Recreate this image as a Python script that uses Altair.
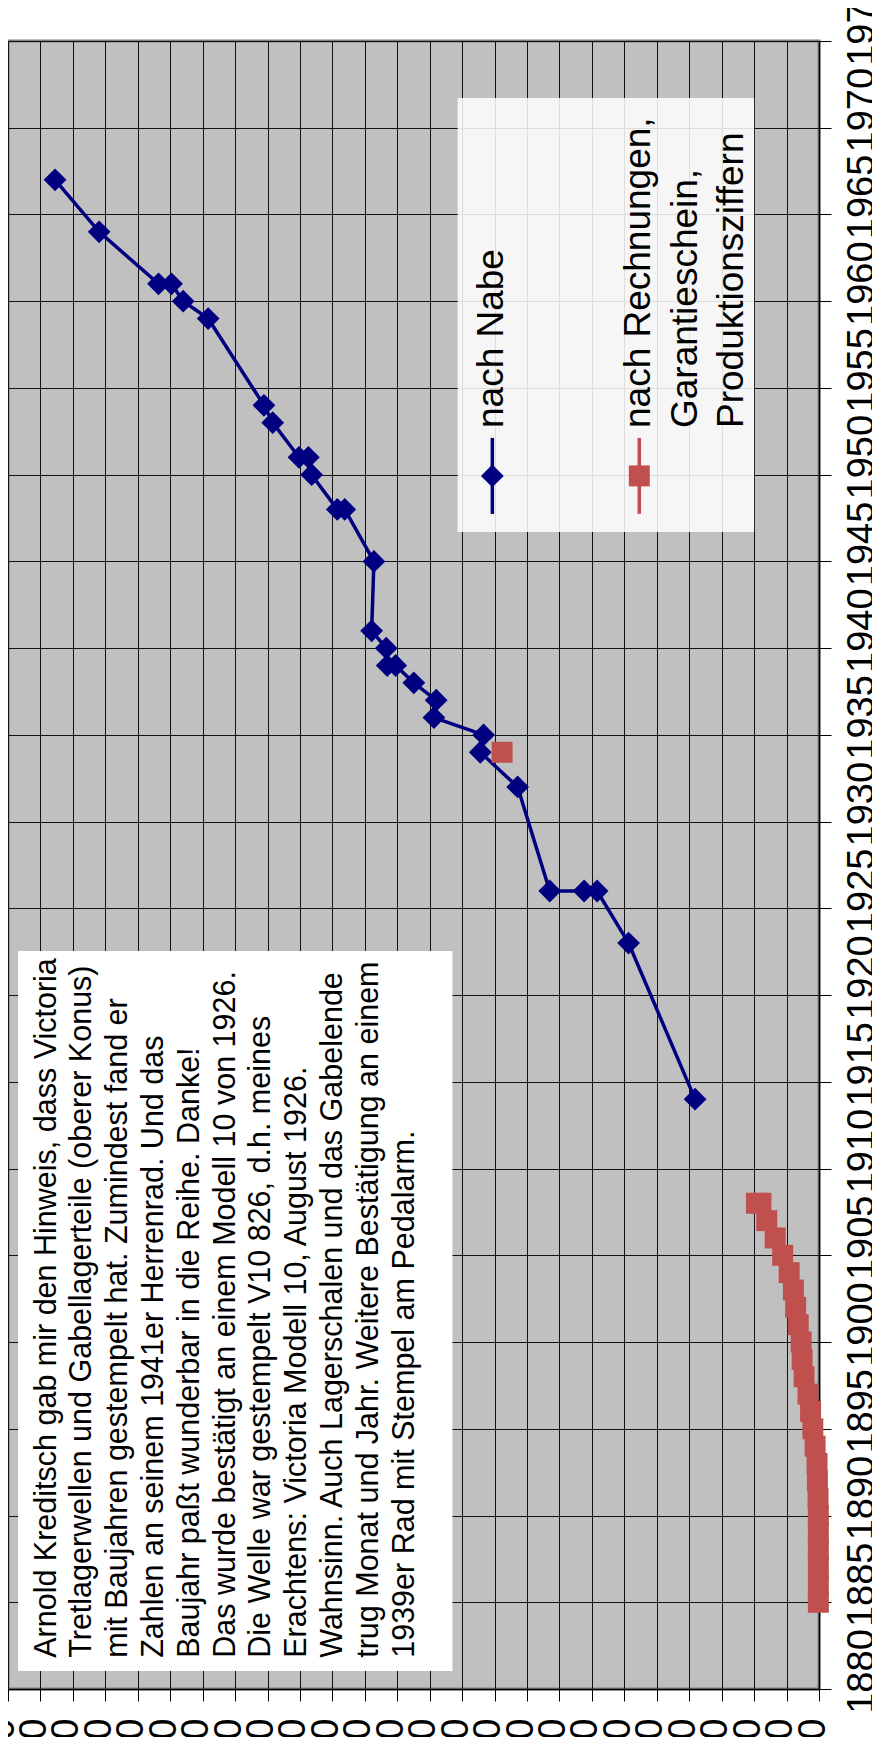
import altair as alt
import pandas as pd

# ---------------- data ----------------
nabe_year = [1914, 1923, 1926, 1926, 1926, 1932, 1934, 1935, 1936, 1937,
             1938, 1939, 1939, 1940, 1941, 1945, 1948, 1948, 1950, 1951,
             1951, 1953, 1954, 1959, 1960, 1961, 1961, 1964, 1967]
nabe_value = [382000, 587000, 684000, 724000, 830000, 929000, 1044000, 1034000, 1187000, 1180000,
              1249000, 1305000, 1331000, 1334000, 1379000, 1372000, 1462000, 1485000, 1564000, 1574000,
              1603000, 1684000, 1711000, 1883000, 1960000, 1996000, 2036000, 2219000, 2355000]

rech_year = [1885, 1886, 1887, 1888, 1889, 1890, 1891, 1892, 1893, 1894,
             1895, 1896, 1897, 1898, 1899, 1900, 1901, 1902, 1903, 1904,
             1905, 1906, 1907, 1908, 1908, 1934]
rech_value = [2000, 2000, 2000, 2000, 2000, 2000, 3000, 5000, 6000, 12000,
              19000, 26000, 34000, 46000, 52000, 55000, 64000, 72000, 79000, 92000,
              112000, 135000, 161000, 179000, 193000, 977000]

year_ticks = list(range(1880, 1976, 5))
value_ticks = list(range(0, 2500001, 100000))

note_lines = [
    "Arnold Kreditsch gab mir den Hinweis, dass Victoria",
    "Tretlagerwellen und Gabellagerteile (oberer Konus)",
    "mit Baujahren gestempelt hat. Zumindest fand er",
    "Zahlen an seinem 1941er Herrenrad. Und das",
    "Baujahr paßt wunderbar in die Reihe. Danke!",
    "Das wurde bestätigt an einem Modell 10 von 1926.",
    "Die Welle war gestempelt V10 826, d.h. meines",
    "Erachtens: Victoria Modell 10, August 1926.",
    "Wahnsinn. Auch Lagerschalen und das Gabelende",
    "trug Monat und Jahr. Weitere Bestätigung an einem",
    "1939er Rad mit Stempel am Pedalarm.",
]
legend_nabe = "nach Nabe"
legend_rech = ["nach Rechnungen,", "Garantieschein,", "Produktionsziffern"]

# ---------------- styling ----------------
FONT = "Liberation Sans"
BLUE = "#000080"
RED = "#C0504D"

xscale = alt.Scale(domain=[0, 2500000], reverse=True, nice=False, zero=False)
yscale = alt.Scale(domain=[1880, 1975], nice=False, zero=False)

xaxis = alt.Axis(orient="bottom", values=value_ticks, format="d", title=None,
                 labelAngle=270, labelAlign="right", labelBaseline="middle",
                 labelFont=FONT, labelFontSize=38, labelColor="black",
                 labelPadding=17, labelOffset=-6, labelOverlap=False, labelFlush=False,
                 labelLimit=400,
                 tickSize=12, tickColor="black", tickWidth=1,
                 domainColor="black", domainWidth=1.5,
                 grid=True, gridColor="#111111", gridWidth=1)
yaxis = alt.Axis(orient="right", values=year_ticks, format="d", title=None,
                 labelAngle=270, labelAlign="center", labelBaseline="top",
                 labelFont=FONT, labelFontSize=38, labelColor="black",
                 labelPadding=12, labelOffset=-18, labelOverlap=False, labelFlush=False,
                 tickSize=12, tickColor="black", tickWidth=1,
                 domainColor="black", domainWidth=1.5,
                 grid=True, gridColor="#111111", gridWidth=1)


def X(f="v"):
    return alt.X(f"{f}:Q", scale=xscale, axis=xaxis)


def Y(f="yr"):
    return alt.Y(f"{f}:Q", scale=yscale, axis=yaxis)


nabe_df = pd.DataFrame({"v": nabe_value, "yr": nabe_year, "i": range(len(nabe_year))})
rech_df = pd.DataFrame({"v": rech_value, "yr": rech_year})

# annotation box (in data coordinates)
note_box = pd.DataFrame({"v": [2469000], "v2": [1130000], "yr": [1881.04], "yr2": [1922.54]})
note_anchor = pd.DataFrame({"v": [2427000], "yr": [1881.8]})

leg_box = pd.DataFrame({"v": [1114000], "v2": [200000], "yr": [1946.7], "yr2": [1971.72]})
leg_rules = pd.DataFrame({"v": [1007000, 554000], "yr": [1947.74, 1947.74], "yr2": [1952.12, 1952.12],
                          "s": ["a", "b"]})
leg_nabe_pt = pd.DataFrame({"v": [1007000], "yr": [1949.93]})
leg_rech_pt = pd.DataFrame({"v": [554000], "yr": [1949.93]})
leg_text = pd.DataFrame({"v": [1007000, 554000, 409000, 268000],
                         "yr": [1952.69] * 4,
                         "t": [legend_nabe] + legend_rech})

layers = []

layers.append(alt.Chart(note_box).mark_rect(fill="white").encode(
    x=X(), x2="v2", y=Y(), y2="yr2"))
layers.append(alt.Chart(note_anchor).mark_text(
    text=note_lines, angle=270, align="left", baseline="top", font=FONT,
    fontSize=30.5, lineHeight=35.8, color="black").encode(x=X(), y=Y()))

layers.append(alt.Chart(leg_box).mark_rect(fill="white", opacity=0.86).encode(
    x=X(), x2="v2", y=Y(), y2="yr2"))
layers.append(alt.Chart(leg_rules).mark_rule(strokeWidth=3.5).encode(
    x=X(), y=Y(), y2="yr2",
    color=alt.Color("s:N", scale=alt.Scale(domain=["a", "b"], range=[BLUE, RED]), legend=None)))
layers.append(alt.Chart(leg_nabe_pt).mark_point(
    shape="diamond", filled=True, size=520, color=BLUE, opacity=1).encode(x=X(), y=Y()))
layers.append(alt.Chart(leg_rech_pt).mark_point(
    shape="square", filled=True, size=440, color=RED, opacity=1).encode(x=X(), y=Y()))
layers.append(alt.Chart(leg_text).mark_text(
    angle=270, align="left", baseline="middle", font=FONT, fontSize=37, color="black").encode(
    x=X(), y=Y(), text="t:N"))

layers.append(alt.Chart(nabe_df).mark_line(color=BLUE, strokeWidth=3.5).encode(
    x=X(), y=Y(), order="i:Q"))
layers.append(alt.Chart(nabe_df).mark_point(
    shape="diamond", filled=True, size=520, color=BLUE, opacity=1).encode(x=X(), y=Y()))
layers.append(alt.Chart(rech_df).mark_point(
    shape="square", filled=True, size=440, color=RED, opacity=1).encode(x=X(), y=Y()))

chart = alt.layer(*layers).properties(
    width=811, height=1648,
    padding={"left": 0, "top": 33, "right": 53, "bottom": 48},
    autosize=alt.AutoSizeParams(type="none"),
    background="white",
).configure_view(fill="#C0C0C0", stroke="#808080", strokeWidth=3)

chart.save("out.html", embed_options={"renderer": "svg", "actions": False})
